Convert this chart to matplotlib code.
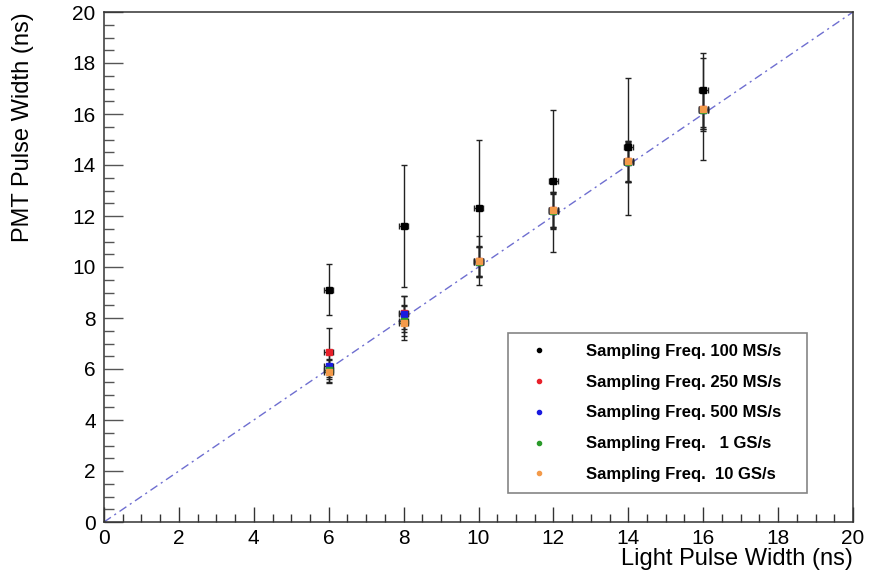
import numpy as np
import matplotlib
matplotlib.use('Agg')
import matplotlib.pyplot as plt
from matplotlib.ticker import MultipleLocator
from matplotlib.lines import Line2D

light_width = [6, 8, 10, 12, 14, 16]

labels = ['Sampling Freq. 100 MS/s', 'Sampling Freq. 250 MS/s',
          'Sampling Freq. 500 MS/s', 'Sampling Freq.   1 GS/s',
          'Sampling Freq.  10 GS/s']
colors = ['black', '#e8202a', '#1a1ae0', '#2a9a2a', '#f39a4a']

pmt_100m = [9.1, 11.6, 12.33, 13.37, 14.72, 16.94]
err_100m = [1.0, 2.4, 2.67, 2.8, 2.7, 1.44]
pmt_250m = [6.65, 8.2, 10.25, 12.25, 14.15, 16.2]
err_250m = [0.95, 0.65, 0.95, 0.7, 0.8, 0.8]
pmt_500m = [6.1, 8.15, 10.2, 12.2, 14.12, 16.15]
err_500m = [0.5, 0.7, 0.6, 0.7, 0.8, 0.75]
pmt_1g = [5.95, 7.9, 10.2, 12.2, 14.12, 16.15]
err_1g = [0.45, 0.6, 0.6, 0.65, 0.75, 0.8]
pmt_10g = [5.9, 7.8, 10.24, 12.24, 14.15, 16.2]
err_10g = [0.45, 0.66, 0.6, 0.7, 0.8, 2.0]

series = [(pmt_100m, err_100m), (pmt_250m, err_250m), (pmt_500m, err_500m),
          (pmt_1g, err_1g), (pmt_10g, err_10g)]

plt.rcParams['font.family'] = ['Liberation Sans', 'DejaVu Sans']

fig = plt.figure(figsize=(8.81, 5.76), dpi=100)
ax = fig.add_axes([104 / 881, 54 / 576, 749 / 881, 510 / 576])

# y = x reference line
ref = np.array([0, 20])
ax.plot(ref, ref, color='#6e6ed0', lw=1.0, dashes=(6, 3, 1.5, 3), zorder=1)

for (y, e), c in zip(series, colors):
    ax.errorbar(light_width, y, yerr=e, xerr=0.12, fmt='s', ms=5,
                mfc=c, mec=c, ecolor='#222222', elinewidth=1.0,
                capsize=2.5, capthick=1.0, zorder=3)

ax.set_xlim(0, 20)
ax.set_ylim(0, 20)
ax.xaxis.set_major_locator(MultipleLocator(2))
ax.xaxis.set_minor_locator(MultipleLocator(0.5))
ax.yaxis.set_major_locator(MultipleLocator(2))
ax.yaxis.set_minor_locator(MultipleLocator(0.5))
ax.tick_params(axis='x', which='major', direction='in', length=11, width=1,
               color='#333333', labelsize=15, pad=5)
ax.tick_params(axis='x', which='minor', direction='in', length=5.5, width=1,
               color='#333333')
ax.tick_params(axis='y', which='major', direction='in', length=14, width=1,
               color='#555555', labelsize=15, pad=6)
ax.tick_params(axis='y', which='minor', direction='in', length=7, width=1,
               color='#555555')
for s in ax.spines.values():
    s.set_color('#333333')
    s.set_linewidth(1.1)

ax.set_xlabel('Light Pulse Width (ns)', fontsize=17, ha='right', x=1.0,
              labelpad=0)
ax.set_ylabel('PMT Pulse Width (ns)', fontsize=17, ha='right')
ax.yaxis.set_label_coords(-0.093, 1.0)

handles = [Line2D([], [], ls='none', marker='o', ms=3, mfc=c, mec=c)
           for c in colors]
leg = ax.legend(handles, labels, loc='lower left',
                bbox_to_anchor=(404 / 749, 29 / 510, 299 / 749, 161 / 510),
                mode='expand', prop={'weight': 'bold', 'size': 12},
                frameon=True, fancybox=False, borderpad=0.65,
                labelspacing=0.95, handletextpad=1.6, handlelength=2.4,
                borderaxespad=0)
leg.get_frame().set_edgecolor('#666666')
leg.get_frame().set_linewidth(1.2)

fig.savefig('out.png', dpi=100)
